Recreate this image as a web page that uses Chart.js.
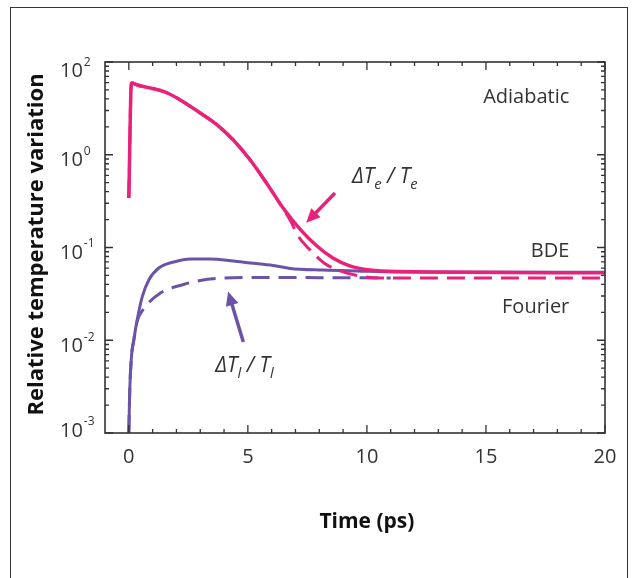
<!DOCTYPE html>
<html>
<head>
<meta charset="utf-8">
<script src="https://cdn.jsdelivr.net/npm/chart.js@4.4.0/dist/chart.umd.min.js"></script>
<style>
  html, body { margin: 0; padding: 0; background: #fff; }
  #wrap { position: relative; width: 632px; height: 578px; overflow: hidden; }
  #frame { position: absolute; left: 10px; top: 7px; width: 616px; height: 620px; border: 1px solid #333; border-bottom: none; }
  canvas { position: absolute; left: 0; top: 0; }
</style>
</head>
<body>
<div id="wrap">
  <div id="frame"></div>
  <canvas id="chart" width="632" height="578"></canvas>
</div>
<script>
// electrons, BDE (solid pink)
const tElecBde = [0, 0.11, 0.36, 1.62, 3.0, 3.72, 4.39, 5.1, 5.81, 6.48, 7.19, 7.9, 8.57, 9.28, 10.12, 11.38, 20];
const elecBde = [0.342, 5.94, 5.65, 4.63, 2.82, 2.09, 1.44, 0.877, 0.484, 0.267, 0.158, 0.1037, 0.0771, 0.0633, 0.0571, 0.055, 0.0534];
// electrons, Fourier (dashed pink)
const tElecFourier = [0, 0.11, 0.36, 1.62, 3.0, 3.72, 4.39, 5.1, 5.81, 6.48, 6.82, 7.11, 7.53, 8.2, 8.87, 9.71, 10.55, 20];
const elecFourier = [0.342, 5.94, 5.65, 4.63, 2.82, 2.09, 1.44, 0.877, 0.484, 0.262, 0.188, 0.133, 0.0989, 0.0681, 0.0559, 0.0493, 0.0469, 0.0469];
// lattice, BDE (solid purple)
const tLatBde = [0, 0.04, 0.11, 0.21, 0.35, 0.56, 0.84, 1.26, 1.89, 2.58, 3.42, 4.39, 5.1, 6.06, 6.77, 8.15, 9.57, 11.4, 20];
const latBde = [0.001, 0.00291, 0.00659, 0.0101, 0.0165, 0.0292, 0.0447, 0.0601, 0.0698, 0.0752, 0.0752, 0.0714, 0.0681, 0.064, 0.0595, 0.0571, 0.0558, 0.0545, 0.054];
// lattice, Fourier (dashed purple)
const tLatFourier = [0, 0.04, 0.11, 0.21, 0.35, 0.59, 1.33, 2.29, 3.0, 3.97, 4.97, 11];
const latFourier = [0.001, 0.00291, 0.00659, 0.01, 0.016, 0.0212, 0.0323, 0.0399, 0.0441, 0.0469, 0.0476, 0.0469];

const xTicks = [0, 5, 10, 15, 20];
const yTicks = [0.001, 0.01, 0.1, 1, 10];
const yTickExp = ['-3', '-2', '-1', '0', '2'];

const PINK = '#e8227a';
const PURPLE = '#6b54a8';
const FONT = '"Open Sans", "DejaVu Sans", sans-serif';
const yLabelShift = [-2, 6, 5.5, 5.5, 9.5];

function pts(ts, vs) {
    return ts.map(function (t, i) { return {x: t, y: vs[i]}; });
}

function drawRuns(ctx, x, y, runs, size) {
    // runs: [text, isSub]
    runs.forEach(function (r) {
        ctx.font = 'italic ' + (r[1] ? size * 0.7 : size) + 'px ' + FONT;
        ctx.fillText(r[0], x, r[1] ? y + size * 0.3 : y);
        x += ctx.measureText(r[0]).width;
    });
}

function arrow(ctx, x0, y0, x1, y1, color) {
    const ang = Math.atan2(y1 - y0, x1 - x0);
    const hl = 14, hw = 6.5;
    ctx.strokeStyle = color; ctx.fillStyle = color; ctx.lineWidth = 3.5;
    ctx.beginPath();
    ctx.moveTo(x0, y0);
    ctx.lineTo(x1 - Math.cos(ang) * hl * 0.8, y1 - Math.sin(ang) * hl * 0.8);
    ctx.stroke();
    ctx.beginPath();
    ctx.moveTo(x1, y1);
    ctx.lineTo(x1 - Math.cos(ang) * hl - Math.sin(ang) * hw, y1 - Math.sin(ang) * hl + Math.cos(ang) * hw);
    ctx.lineTo(x1 - Math.cos(ang) * hl + Math.sin(ang) * hw, y1 - Math.sin(ang) * hl - Math.cos(ang) * hw);
    ctx.closePath();
    ctx.fill();
}

const overlay = {
    id: 'overlay',
    afterDatasetsDraw(chart) {
        const ctx = chart.ctx, a = chart.chartArea, x = chart.scales.x, y = chart.scales.y;
        ctx.save();

        // axes box
        ctx.strokeStyle = '#333';
        ctx.lineWidth = 1.6;
        ctx.strokeRect(a.left, a.top, a.right - a.left, a.bottom - a.top);

        // inward ticks
        ctx.lineWidth = 1.3;
        ctx.beginPath();
        for (let t = 0; t <= 20; t++) {
            const px = x.getPixelForValue(t), len = t % 5 === 0 ? 8 : 4;
            ctx.moveTo(px, a.bottom); ctx.lineTo(px, a.bottom - len);
            ctx.moveTo(px, a.top); ctx.lineTo(px, a.top + len);
        }
        for (let d = -3; d <= 1; d++) {
            for (let k = 1; k <= 9; k++) {
                if (d === 1 && k > 1) break;
                const py = y.getPixelForValue(k * Math.pow(10, d)), len = k === 1 ? 8 : 4;
                ctx.moveTo(a.left, py); ctx.lineTo(a.left + len, py);
                ctx.moveTo(a.right, py); ctx.lineTo(a.right - len, py);
            }
        }
        ctx.stroke();

        // tick labels
        ctx.fillStyle = '#333';
        ctx.textBaseline = 'middle';
        ctx.textAlign = 'center';
        ctx.font = '20px ' + FONT;
        xTicks.forEach(function (t) {
            ctx.fillText(String(t), x.getPixelForValue(t), 457);
        });
        ctx.textAlign = 'left';
        yTicks.forEach(function (v, i) {
            const py = y.getPixelForValue(v) + yLabelShift[i];
            ctx.font = '20px ' + FONT;
            ctx.fillText('10', 60, py);
            const w = ctx.measureText('10').width;
            ctx.font = '12px ' + FONT;
            ctx.fillText(yTickExp[i], 60 + w + 1, py - 9);
        });

        // axis titles
        ctx.fillStyle = '#111';
        ctx.font = 'bold 21px ' + FONT;
        ctx.textAlign = 'center';
        ctx.fillText('Time (ps)', x.getPixelForValue(10), 522);
        ctx.save();
        ctx.translate(37, (a.top + a.bottom) / 2 - 3);
        ctx.rotate(-Math.PI / 2);
        ctx.font = 'bold 22px ' + FONT;
        ctx.fillText('Relative temperature variation', 0, 0);
        ctx.restore();

        // curve labels
        ctx.fillStyle = '#333';
        ctx.font = '20px ' + FONT;
        ctx.textAlign = 'right';
        ctx.fillText('Adiabatic', x.getPixelForValue(18.5), y.getPixelForValue(4.2));
        ctx.fillText('BDE', x.getPixelForValue(18.5), y.getPixelForValue(0.09));
        ctx.fillText('Fourier', x.getPixelForValue(18.5), y.getPixelForValue(0.0228));
        ctx.textAlign = 'left';
        ctx.textBaseline = 'alphabetic';
        drawRuns(ctx, x.getPixelForValue(9.37), y.getPixelForValue(0.495), [['\u0394T', 0], ['e', 1], [' / ', 0], ['T', 0], ['e', 1]], 21);
        drawRuns(ctx, x.getPixelForValue(3.63), y.getPixelForValue(0.0046), [['\u0394T', 0], ['l', 1], [' / ', 0], ['T', 0], ['l', 1]], 21);

        // arrows
        arrow(ctx, x.getPixelForValue(8.66), y.getPixelForValue(0.387), x.getPixelForValue(7.45), y.getPixelForValue(0.185), PINK);
        arrow(ctx, x.getPixelForValue(4.81), y.getPixelForValue(0.00957), x.getPixelForValue(4.17), y.getPixelForValue(0.0335), PURPLE);

        ctx.restore();
    }
};

const data = {
    datasets: [
        {label: 'Electrons BDE', data: pts(tElecBde, elecBde), borderColor: PINK, borderWidth: 3.5},
        {label: 'Electrons Fourier', data: pts(tElecFourier, elecFourier), borderColor: PINK, borderWidth: 3, borderDash: [18, 9]},
        {label: 'Lattice BDE', data: pts(tLatBde, latBde), borderColor: PURPLE, borderWidth: 3},
        {label: 'Lattice Fourier', data: pts(tLatFourier, latFourier), borderColor: PURPLE, borderWidth: 3, borderDash: [18, 9]}
    ]
};

const config = {
    type: 'line',
    data: data,
    options: {
        responsive: false,
        animation: false,
        layout: {padding: {left: 105, top: 62, right: 27, bottom: 145}},
        elements: {
            point: {radius: 0},
            line: {cubicInterpolationMode: 'monotone', fill: false}
        },
        plugins: {legend: {display: false}, tooltip: {enabled: false}},
        scales: {
            x: {type: 'linear', display: false, min: -1, max: 20},
            y: {type: 'logarithmic', display: false, min: 0.001, max: 10}
        }
    },
    plugins: [overlay]
};

var ctx = document.getElementById('chart').getContext('2d');
var chart = new Chart(ctx, config);
</script>
</body>
</html>
